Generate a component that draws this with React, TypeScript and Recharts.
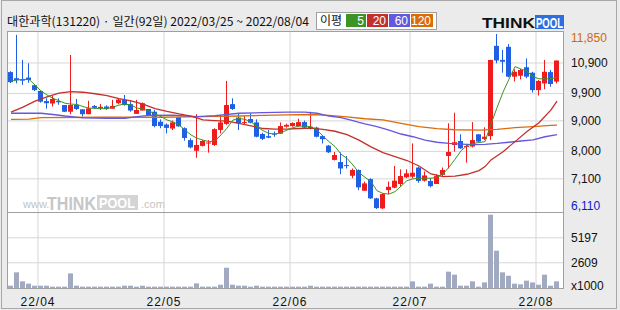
import React from 'react';
import { ComposedChart, Bar, Line, XAxis, YAxis, CartesianGrid } from 'recharts';

const opens = [10600,10400,10370,10420,10170,9980,9650,9570,9650,9520,
  9300,9520,9380,9220,9490,9420,9470,9400,9580,9690,
  9550,9230,9340,9390,9300,8970,8880,8750,9120,8760,
  8370,8020,8180,8260,8210,8700,8900,9550,9110,8940,
  9060,8950,8570,8500,8580,8580,8810,8830,8830,8960,
  8750,8780,8500,8190,7720,7650,7550,7200,7390,6710,
  7090,6460,6130,6730,6810,6930,7150,7170,7470,7040,
  7030,6930,7230,7850,8210,8340,8160,8160,8560,8410,
  8500,11460,11000,11430,10450,10480,10760,10580,10010,10230,
  10600,10290];
const highs = [10630,11820,11000,10890,10190,10010,9740,9820,9740,9520,
  11160,9720,9380,9660,9520,9550,9510,9690,9740,9850,
  9650,9690,9600,9390,9360,9050,8920,9010,9120,8790,
  8430,9220,8370,8370,8760,9190,10310,9740,9250,9160,
  9250,9050,8610,8700,8650,8950,8910,8950,9070,9010,
  9300,8810,8530,8210,7980,7970,7850,7440,7410,7010,
  7120,6480,6620,7010,7520,7410,7410,8260,7500,7340,
  7120,7250,7470,8920,9270,8560,8210,8960,8560,8790,
  11000,11850,11330,11520,10690,10700,11050,10610,10340,11000,
  10670,10980];
const lows = [10240,10230,10180,10250,9980,9600,9400,9470,9530,9290,
  9220,9360,9140,9220,9400,9360,9360,9400,9550,9500,
  9300,9230,9340,9160,8790,8760,8590,8700,8810,8350,
  8100,7790,8160,7960,8180,8590,8870,9360,8700,8870,
  8920,8460,8370,8430,8480,8580,8780,8810,8810,8760,
  8720,8460,8260,7950,7700,7250,7440,7120,6730,6700,
  6440,6110,6110,6600,6790,6840,7120,7120,6970,7010,
  6820,6930,7170,7440,7990,8080,7630,8130,8300,8370,
  8370,10890,10580,10430,10290,10360,10400,9930,9830,10040,
  10120,10230];
const closes = [10270,10340,10320,10340,10010,9630,9580,9720,9610,9300,
  9520,9390,9220,9410,9430,9460,9390,9490,9700,9520,
  9340,9360,9580,9190,8830,8830,8770,8950,8820,8440,
  8130,8210,8340,8290,8730,8950,9520,9390,8920,8960,
  8940,8480,8410,8450,8550,8830,8870,8930,8960,8780,
  8810,8480,8400,7970,7880,7440,7530,7390,6820,6950,
  6460,6140,6600,6840,7040,7190,7280,7300,7030,7210,
  6860,7190,7390,7980,8300,8100,8180,8370,8320,8480,
  11000,10980,10940,10450,10610,10670,10450,10010,10310,10610,
  10210,10980];
const volumes = [240,1620,690,450,240,240,240,140,140,140,
  1510,240,140,140,140,140,140,140,140,240,
  240,140,240,140,140,140,140,140,140,140,
  140,480,140,140,140,340,2100,340,240,240,
  140,240,140,140,140,140,140,140,140,140,
  240,140,140,140,140,140,140,140,140,140,
  140,140,140,140,140,140,140,690,140,140,
  450,140,140,1690,1380,240,240,690,140,580,
  7590,3860,1620,1270,450,380,760,580,340,1380,
  240,690];
const ma5 = [10300,10340,10360,10360,10180,9980,9850,9740,9660,9580,
  9550,9540,9470,9420,9410,9400,9400,9450,9520,9550,
  9520,9420,9390,9320,9230,9140,9030,8970,8870,8700,
  8540,8430,8370,8320,8340,8540,8760,9030,9080,9050,
  8970,8810,8680,8590,8570,8610,8700,8780,8830,8830,
  8810,8700,8500,8320,8160,7910,7770,7550,7300,7150,
  7010,6710,6620,6600,6680,6860,7040,7100,7120,7120,
  7120,7150,7260,7480,7740,8020,8190,8260,8290,8320,
  8900,9430,9940,10370,10780,10700,10630,10450,10380,10380,
  10380,10430];
const ma20Pts = [[0,9290],[2,9450],[4,9650],[6,9790],[8,9910],[10,9960],[12,9940],[14,9890],[16,9830],[18,9730],[20,9660],[22,9550],[24,9400],[26,9310],[28,9230],[30,9160],[32,9030],[34,9010],[36,8990],[38,8920],[40,8840],[42,8750],[44,8730],[46,8730],[48,8750],[50,8760],[52,8720],[54,8660],[56,8550],[58,8370],[60,8150],[62,7960],[64,7830],[66,7700],[68,7520],[70,7260],[72,7170],[74,7190],[76,7250],[78,7370],[79,7500],[80,7720],[82,7990],[84,8320],[86,8650],[88,8940],[90,9360],[91,9650]];
const ma60Pts = [[0,9250],[5,9250],[7,9210],[9,9160],[12,9100],[16,9080],[19,9080],[21,9140],[23,9180],[27,9190],[31,9140],[34,9170],[38,9250],[42,9270],[46,9290],[49,9290],[51,9250],[53,9160],[55,9110],[57,9010],[58,8950],[59,8900],[61,8810],[63,8700],[65,8570],[67,8480],[69,8370],[71,8300],[73,8260],[75,8240],[77,8220],[79,8230],[81,8260],[83,8300],[85,8340],[87,8380],[89,8480],[91,8550]];
const ma120Pts = [[0,9050],[3,9060],[5,9110],[15,9120],[25,9120],[32,9140],[38,9160],[42,9180],[46,9200],[50,9210],[53,9180],[56,9130],[59,9070],[62,9030],[65,8920],[68,8810],[71,8745],[74,8710],[78,8700],[81,8720],[84,8780],[87,8810],[90,8850],[91,8860]];

const monthStarts = [5, 26, 47, 67, 88];
const monthLabels = ['22/04', '22/05', '22/06', '22/07', '22/08'];
const priceTicks = [6110, 7100, 8000, 9000, 9900, 10900, 11850];
const priceGrid = [7100, 8000, 9000, 9900, 10900];
const volTicks = [0, 2609, 5197];
const volGrid = [2609, 5197];

const RED = '#ee1c1c';
const BLUE = '#1f5fe3';
const C5 = '#3c9424';
const C20 = '#c3302b';
const C60 = '#6558dc';
const C120 = '#dc6c0a';
const GRID = '#d6d6d6';
const FONT = '"Liberation Sans", Arial, sans-serif';

type Row = { i: number; o: number; h: number; l: number; c: number; range: number[]; v: number; ma5: number; ma20: number | null; ma60: number | null; ma120: number | null };

const data: Row[] = opens.map((o, i) => ({
  i, o, h: highs[i], l: lows[i], c: closes[i], range: [lows[i], highs[i]], v: volumes[i], ma5: ma5[i], ma20: null, ma60: null, ma120: null,
}));
ma20Pts.forEach(([i, v]) => { data[i].ma20 = v; });
ma60Pts.forEach(([i, v]) => { data[i].ma60 = v; });
ma120Pts.forEach(([i, v]) => { data[i].ma120 = v; });

const monthGrid = monthStarts.map((s) => s - 0.5);

function Candle(props: any) {
  const { x, y, width, height, payload } = props;
  if (x == null || payload == null) return null;
  const { o, h, l, c } = payload;
  const top = Math.min(y, y + height);
  const full = Math.abs(height);
  const k = h === l ? 0 : full / (h - l);
  const bTop = top + (h - Math.max(o, c)) * k;
  const bBot = top + (h - Math.min(o, c)) * k;
  const col = c >= o ? RED : BLUE;
  const w = Math.max(1, Math.round(width));
  const bx = Math.round(x);
  const cx = bx + Math.floor(w / 2) + 0.5;
  return (
    <g>
      <line x1={cx} x2={cx} y1={top} y2={top + full} stroke={col} strokeWidth={1} />
      <rect x={bx} y={bTop} width={w} height={Math.max(1, bBot - bTop)} fill={col} />
    </g>
  );
}

function PriceTick(props: any) {
  const { x, y, payload } = props;
  const v = payload.value;
  let fill = '#111';
  let dy = 4;
  if (v === 11850) { fill = '#d06a08'; dy = 8; }
  if (v === 6110) { fill = '#0a1ad0'; dy = 1; }
  return (
    <text x={x} y={y} dy={dy} textAnchor="start" fontSize={12} fontFamily={FONT} fill={fill}>
      {v.toLocaleString('en-US')}
    </text>
  );
}

function VolTick(props: any) {
  const { x, y, payload } = props;
  const v = payload.value;
  return (
    <text x={x} y={y} dy={v === 0 ? 2 : 4} textAnchor="start" fontSize={12} fontFamily={FONT} fill="#111">
      {v === 0 ? 'x1000' : String(v)}
    </text>
  );
}

function MonthTick(props: any) {
  const { x, y, payload } = props;
  const idx = monthGrid.indexOf(payload.value);
  return (
    <text x={x} y={y} dy={10} textAnchor="middle" fontSize={12} fontFamily={FONT} fill="#111" letterSpacing={1}>
      {monthLabels[idx]}
    </text>
  );
}

export default function App() {
  return (
    <div style={{ position: 'absolute', left: 0, top: 0, width: 620, height: 310, background: '#ebebeb', overflow: 'hidden' }}>
      <div style={{ position: 'absolute', left: 7, top: 31, width: 557, height: 258, background: '#fff' }} />
      <svg width={620} height={310} style={{ position: 'absolute', left: 0, top: 0 }}>
        <text x={23} y={208} fontSize={11} fontFamily={FONT} fill="#c4c4c4">www.</text>
        <text x={47} y={210} fontSize={18} fontWeight="bold" fontFamily={FONT} fill="#c6c6c6" textLength={49} lengthAdjust="spacingAndGlyphs">THINK</text>
        <rect x={97} y={195} width={41} height={15} fill="#d4d4d4" />
        <text x={99} y={208} fontSize={14} fontWeight="bold" fontFamily={FONT} fill="#fff" textLength={36} lengthAdjust="spacingAndGlyphs">POOL</text>
        <text x={141} y={208} fontSize={11} fontFamily={FONT} fill="#c4c4c4">.com</text>
      </svg>
      <div style={{ position: 'absolute', left: 0, top: 0 }}>
        <ComposedChart width={620} height={212} data={data} margin={{ top: 31, right: 0, bottom: 0, left: 8 }}>
          <CartesianGrid stroke={GRID} horizontalValues={priceGrid} verticalValues={monthGrid} />
          <XAxis type="number" dataKey="i" domain={[-0.5, 92]} hide allowDataOverflow />
          <YAxis orientation="right" type="number" domain={[6012, 11948]} ticks={priceTicks} interval={0} width={57} axisLine={false} tickLine={false} tick={<PriceTick />} allowDataOverflow />
          <Line dataKey="ma120" stroke={C120} strokeWidth={1.3} dot={false} connectNulls isAnimationActive={false} />
          <Line dataKey="ma60" stroke={C60} strokeWidth={1.3} dot={false} connectNulls isAnimationActive={false} />
          <Line dataKey="ma20" stroke={C20} strokeWidth={1.3} dot={false} connectNulls isAnimationActive={false} />
          <Line dataKey="ma5" stroke={C5} strokeWidth={1} dot={false} connectNulls isAnimationActive={false} />
          <Bar dataKey="range" barSize={5} shape={<Candle />} isAnimationActive={false} />
        </ComposedChart>
      </div>
      <div style={{ position: 'absolute', left: 0, top: 212 }}>
        <ComposedChart width={620} height={98} data={data} margin={{ top: 0, right: 0, bottom: 0, left: 8 }}>
          <CartesianGrid stroke={GRID} horizontalValues={volGrid} verticalValues={monthGrid} />
          <XAxis type="number" dataKey="i" domain={[-0.5, 92]} ticks={monthGrid} interval={0} height={22} axisLine={false} tickLine={false} tick={<MonthTick />} allowDataOverflow />
          <YAxis orientation="right" type="number" domain={[0, 7866]} ticks={volTicks} interval={0} width={57} axisLine={false} tickLine={false} tick={<VolTick />} allowDataOverflow />
          <Bar dataKey="v" barSize={5} fill="#a2aac2" isAnimationActive={false} />
        </ComposedChart>
      </div>
      <div style={{ position: 'absolute', left: 7, top: 31, width: 557, height: 258, border: '1px solid #a0a0a0', boxSizing: 'border-box', pointerEvents: 'none' }} />
      <div style={{ position: 'absolute', left: 7, top: 212, width: 557, height: 1, background: '#a0a0a0' }} />
      <div style={{ position: 'absolute', left: 1, top: 0, width: 616, height: 309, border: '1px solid #a8a8a8', boxSizing: 'border-box', pointerEvents: 'none' }} />
      <svg width={620} height={31} style={{ position: 'absolute', left: 0, top: 0 }}>
        <text x={7} y={26} fontSize={12} fontFamily='"Noto Sans CJK KR", sans-serif' fill="#111" textLength={302} lengthAdjust="spacingAndGlyphs">대한과학(131220) · 일간(92일) 2022/03/25 ~ 2022/08/04</text>
        <rect x={316.5} y={12.5} width={120} height={17} fill="#fff" stroke="#a0a0a0" />
        <text x={320} y={25} fontSize={12} fontFamily='"Noto Sans CJK KR", sans-serif' fill="#111">이평</text>
        <rect x={346} y={14} width={20} height={13} fill={C5} />
        <text x={364} y={25} textAnchor="end" fontSize={12} fontFamily={FONT} fill="#fff">5</text>
        <rect x={367} y={14} width={21} height={13} fill={C20} />
        <text x={386} y={25} textAnchor="end" fontSize={12} fontFamily={FONT} fill="#fff">20</text>
        <rect x={389} y={14} width={21} height={13} fill={C60} />
        <text x={408} y={25} textAnchor="end" fontSize={12} fontFamily={FONT} fill="#fff">60</text>
        <rect x={411} y={14} width={22} height={13} fill={C120} />
        <text x={431} y={25} textAnchor="end" fontSize={12} fontFamily={FONT} fill="#fff">120</text>
        <text x={482} y={28} fontSize={15} fontWeight="bold" fontFamily={FONT} fill="#111" textLength={53} lengthAdjust="spacingAndGlyphs">THINK</text>
        <rect x={535} y={15} width={29} height={14} fill="#2d6fe0" />
        <text x={536} y={28} fontSize={14} fontWeight="bold" fontFamily={FONT} fill="#fff" textLength={27} lengthAdjust="spacingAndGlyphs">POOL</text>
      </svg>
    </div>
  );
}
